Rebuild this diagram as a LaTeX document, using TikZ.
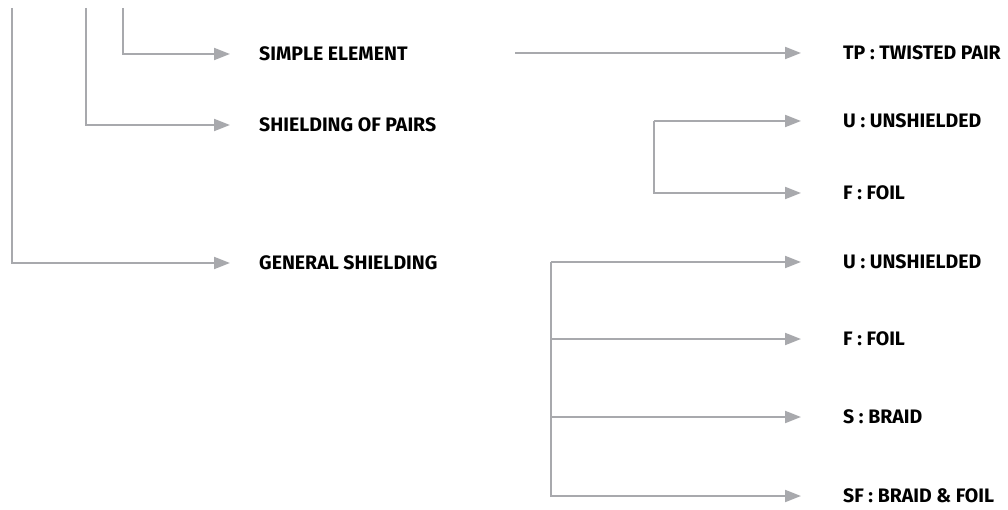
\documentclass[tikz,border=0pt]{standalone}
\usepackage{fontspec}
\setmainfont{Fira Sans}
\usetikzlibrary{arrows.meta}
\definecolor{lgray}{HTML}{A8A9AD}
\tikzset{
  lbl/.style={anchor=west,inner sep=0pt,font=\bfseries\fontsize{19.5}{22}\selectfont,text=black},
  conn/.style={draw=lgray,line width=2pt,-{Triangle[length=16pt,width=12pt]}},
  gapL/.style={shorten >=29pt},
  gapR/.style={shorten >=42pt}
}
\begin{document}
\begin{tikzpicture}[x=1pt,y=-1pt]
\useasboundingbox (0,0) rectangle (1008,510);
% text nodes
\node[lbl] (se) at (259,54) {SIMPLE ELEMENT};
\node[lbl] (sp) at (259,125) {SHIELDING OF PAIRS};
\node[lbl] (gs) at (259,263) {GENERAL SHIELDING};
\node[lbl] (tp) at (843,53) {TP : TWISTED PAIR};
\node[lbl] (u1) at (843,121) {U : UNSHIELDED};
\node[lbl] (f1) at (843,193) {F : FOIL};
\node[lbl] (u2) at (843,262) {U : UNSHIELDED};
\node[lbl] (f2) at (843,339) {F : FOIL};
\node[lbl] (s2) at (843,417) {S : BRAID};
\node[lbl] (sf2) at (843,496) {SF : BRAID \& FOIL};
% top starts
\coordinate (t1) at (123,8);
\coordinate (t2) at (86,8);
\coordinate (t3) at (12,8);
\coordinate (mid) at (515,53);
\coordinate (b1) at (654,121);
\coordinate (b2) at (551,262);
% connectors left
\draw[conn,gapL] (t1) |- (se.west);
\draw[conn,gapL] (t2) |- (sp.west);
\draw[conn,gapL] (t3) |- (gs.west);
% simple element -> twisted pair
\draw[conn,gapR] (mid) -- (tp.west);
% shielding of pairs bracket
\draw[conn,gapR] (b1) -- (u1.west);
\draw[conn,gapR] (b1) |- (f1.west);
% general shielding bracket
\draw[conn,gapR] (b2) -- (u2.west);
\draw[conn,gapR] (b2) |- (f2.west);
\draw[conn,gapR] (b2) |- (s2.west);
\draw[conn,gapR] (b2) |- (sf2.west);
\end{tikzpicture}
\end{document}
